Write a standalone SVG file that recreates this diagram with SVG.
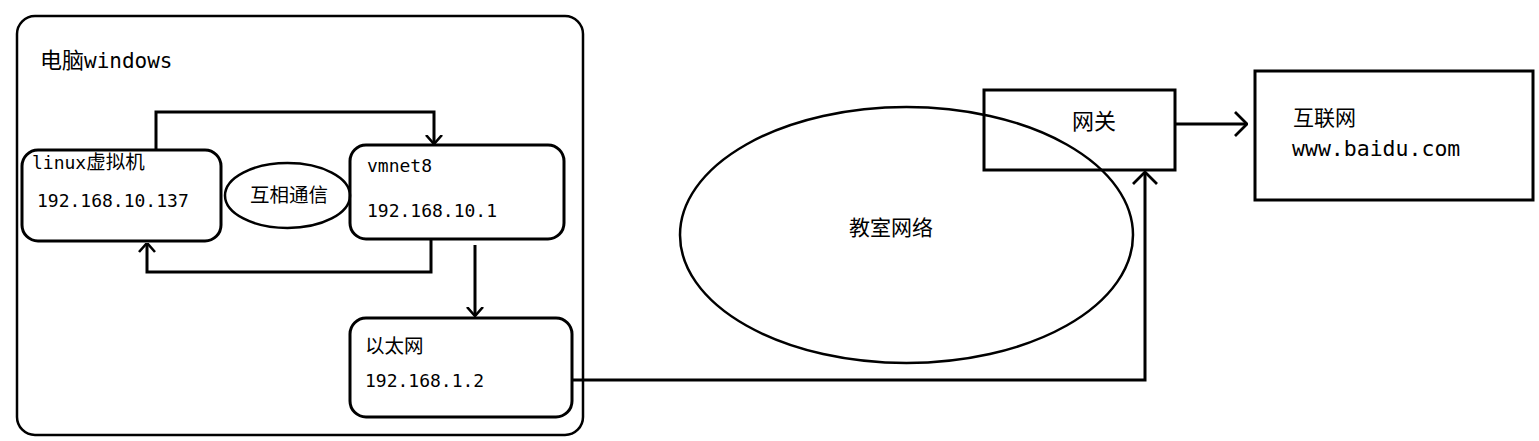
<svg xmlns="http://www.w3.org/2000/svg" width="1539" height="441" viewBox="0 0 1539 441">
<style>
.box{fill:none;stroke:#000;stroke-width:3}
.thin{fill:none;stroke:#000;stroke-width:2.5}
.ln{fill:none;stroke:#000;stroke-width:3}
.mono{font-family:"DejaVu Sans Mono","Liberation Mono","Noto Sans CJK SC",monospace;fill:#000}
.cjk{font-family:"Noto Sans CJK SC","Liberation Sans",sans-serif;fill:#000}
</style>
<defs>
<marker id="ah" viewBox="0 0 10 18" refX="9.5" refY="9" markerWidth="10" markerHeight="18" markerUnits="userSpaceOnUse" orient="auto">
<path d="M0.5,1 L9.5,9 L0.5,17" fill="none" stroke="#000" stroke-width="2.6"/>
</marker>
<marker id="ahL" viewBox="0 0 14 26" refX="13" refY="13" markerWidth="14" markerHeight="26" markerUnits="userSpaceOnUse" orient="auto">
<path d="M1,1 L13,13 L1,25" fill="none" stroke="#000" stroke-width="2.8"/>
</marker>
</defs>
<rect width="1539" height="441" fill="#fff"/>

<g id="windows">
<rect class="thin" x="17" y="16" width="566" height="419" rx="18"/>
<text x="40" y="68" font-size="21"><tspan class="cjk" font-size="22">电脑</tspan><tspan class="mono">windows</tspan></text>
</g>

<g id="linux">
<rect class="box" x="22" y="150" width="199" height="91" rx="16"/>
<text x="32" y="169" font-size="18"><tspan class="mono">linux</tspan><tspan class="cjk" font-size="19.5">虚拟机</tspan></text>
<text class="mono" x="37" y="207" font-size="18">192.168.10.137</text>
</g>

<g id="comm">
<ellipse class="thin" cx="287.5" cy="195.5" rx="62.5" ry="32.5"/>
<text class="cjk" x="289" y="202" font-size="19.5" text-anchor="middle">互相通信</text>
</g>

<g id="vmnet8">
<rect class="box" x="350" y="145" width="214" height="94" rx="16"/>
<text class="mono" x="367" y="172" font-size="18">vmnet8</text>
<text class="mono" x="367" y="217" font-size="18">192.168.10.1</text>
</g>

<g id="ethernet">
<rect class="box" x="350" y="318" width="222" height="99" rx="16"/>
<text class="cjk" x="365" y="353" font-size="19.5">以太网</text>
<text class="mono" x="365" y="387" font-size="18">192.168.1.2</text>
</g>

<g id="classroom">
<ellipse class="thin" cx="906.5" cy="235" rx="226.5" ry="128"/>
<text class="cjk" x="891" y="235" font-size="21" text-anchor="middle">教室网络</text>
</g>

<g id="gateway">
<rect class="box" x="984" y="90" width="191" height="80"/>
<text class="cjk" x="1094" y="129" font-size="22" text-anchor="middle">网关</text>
</g>

<g id="internet">
<rect class="box" x="1255" y="71" width="278" height="129"/>
<text class="cjk" x="1293" y="125" font-size="21">互联网</text>
<text class="mono" x="1292" y="156" font-size="21.5">www.baidu.com</text>
</g>

<g id="connectors">
<polyline class="ln" points="156,150 156,112 434,112 434,144" marker-end="url(#ah)"/>
<polyline class="ln" points="431,239 431,272 147,272 147,243" marker-end="url(#ah)"/>
<line class="ln" x1="475" y1="245" x2="475" y2="316" marker-end="url(#ah)"/>
<polyline class="ln" points="572,380 1145,380 1145,172" marker-end="url(#ahL)"/>
<line class="ln" x1="1175" y1="124" x2="1247" y2="124" marker-end="url(#ahL)"/>
</g>
</svg>
